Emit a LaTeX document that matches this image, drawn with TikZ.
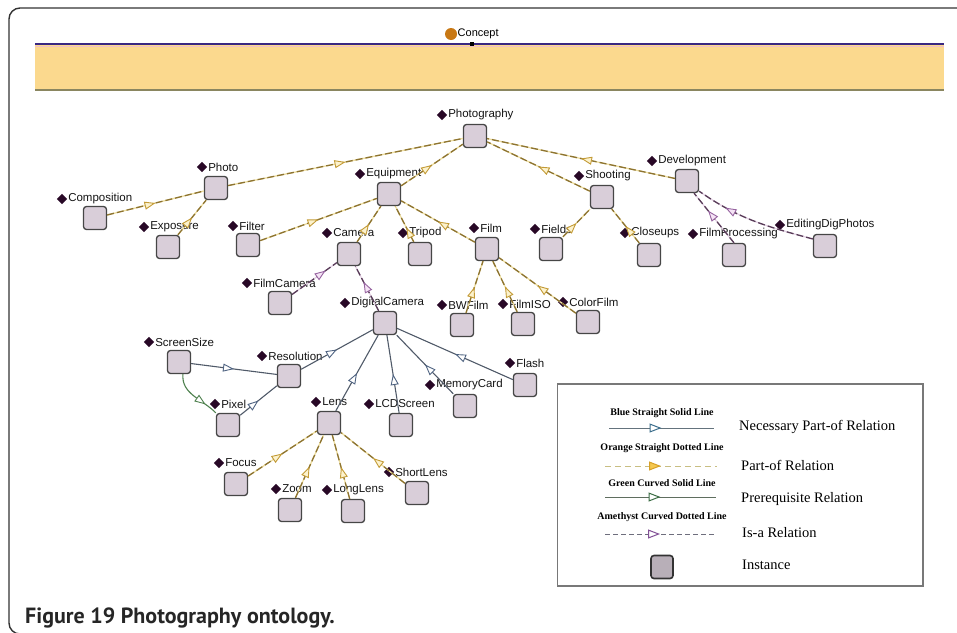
\documentclass[tikz,border=0pt]{standalone}
\usepackage{fontspec}
\setmainfont{Liberation Sans}
\newfontfamily\legfont{Liberation Serif}
\newfontfamily\capfont{PT Sans}
\usetikzlibrary{arrows.meta,decorations.markings,shapes.geometric}

\definecolor{instfill}{RGB}{217,206,217}
\definecolor{instdraw}{RGB}{70,70,70}
\definecolor{diamc}{RGB}{40,8,38}
\definecolor{pofdash}{RGB}{140,115,50}
\definecolor{pofunder}{RGB}{238,222,160}
\definecolor{pofarrow}{RGB}{195,155,55}
\definecolor{pofarrowfill}{RGB}{252,242,205}
\definecolor{isadash}{RGB}{88,60,88}
\definecolor{isaunder}{RGB}{228,210,228}
\definecolor{isaarrow}{RGB}{150,100,160}
\definecolor{isaarrowfill}{RGB}{245,228,245}
\definecolor{npline}{RGB}{80,90,105}
\definecolor{nparrow}{RGB}{80,100,130}
\definecolor{preline}{RGB}{80,130,80}
\definecolor{bandfill}{RGB}{251,217,142}
\definecolor{bandtop}{RGB}{58,40,130}
\definecolor{bandpink}{RGB}{240,190,200}
\definecolor{bandbot}{RGB}{138,134,96}
\definecolor{conceptc}{RGB}{200,120,20}
\definecolor{framec}{RGB}{50,50,50}
\definecolor{legbox}{RGB}{120,120,120}
\definecolor{legpof}{RGB}{200,190,130}
\definecolor{legpofarrow}{RGB}{215,160,40}
\definecolor{legpoffill}{RGB}{245,200,80}
\definecolor{legnp}{RGB}{100,115,125}
\definecolor{legnparrow}{RGB}{60,110,140}
\definecolor{legpre}{RGB}{95,110,95}
\definecolor{legprearrow}{RGB}{60,110,70}
\definecolor{legisa}{RGB}{110,110,125}
\definecolor{legisaarrow}{RGB}{130,80,150}

\tikzset{
  inst/.style={draw=instdraw, fill=instfill, line width=1.3pt, rounded corners=3pt,
    minimum width=23pt, minimum height=23pt, inner sep=0pt},
  lbldiam/.style={diamond, fill=diamc, inner sep=0pt, minimum width=10.5pt, minimum height=10.5pt},
  lbltext/.style={anchor=west, inner sep=0.6pt, font=\fontsize{11.5}{13}\selectfont, text=black!92},
  midtip/.style 2 args={postaction={decorate, decoration={markings,
    mark=at position #1 with {\arrow{#2}}}}},
  partof/.style={draw=pofdash, line width=1.3pt, dash pattern=on 7pt off 3pt,
    preaction={draw=pofunder, solid, line width=1.3pt},
    midtip={#1}{Triangle[length=11pt,width=8pt,color=pofarrow,fill=pofarrowfill,line width=0.9pt]}},
  partof/.default=0.5,
  isa/.style={draw=isadash, line width=1.3pt, dash pattern=on 7pt off 3pt,
    preaction={draw=isaunder, solid, line width=1.3pt},
    midtip={#1}{Triangle[length=11pt,width=8pt,color=isaarrow,fill=isaarrowfill,line width=0.9pt]}},
  isa/.default=0.7,
  necpart/.style={draw=npline, line width=1.1pt,
    midtip={#1}{Triangle[length=11pt,width=8pt,color=nparrow,fill=white,line width=0.9pt]}},
  necpart/.default=0.5,
  prereq/.style={draw=preline, line width=1.1pt,
    midtip={#1}{Triangle[length=11pt,width=8pt,color=preline,fill=white,line width=0.9pt]}},
  prereq/.default=0.75,
  legsmall/.style={font=\legfont\bfseries\fontsize{10}{12}\selectfont, inner sep=0pt},
  legbig/.style={font=\legfont\fontsize{14.5}{17}\selectfont, anchor=west, inner sep=0pt},
  legtip/.style 2 args={midtip={0.5}{Triangle[length=12pt,width=9pt,color=#1,fill=#2,line width=1pt]}},
}

% instance label: name, diamond x, diamond y, text
\newcommand{\instlabel}[4]{%
  \node[lbldiam] (#1-d) at (#2,#3) {};
  \node[lbltext] (#1-t) at (#1-d.east) {#4};}
% instance square: name, x, y
\newcommand{\instbox}[3]{\node[inst] (#1) at (#2,#3) {};}

\begin{document}
\begin{tikzpicture}[x=1pt,y=-1pt]
\useasboundingbox (0,0) rectangle (957,632);

% page frame
\draw[framec, line width=1.4pt, rounded corners=11pt] (960,8) -- (9,8) -- (9,634) -- (960,634);

% concept band
\fill[bandfill] (35,45) rectangle (944,90);
\draw[bandpink, line width=1pt] (35,46.8) -- (944,46.8);
\draw[bandtop, line width=2pt] (35,44) -- (944,44);
\draw[bandbot, line width=1.6pt] (35,90) -- (944,90);
\node[circle, fill=conceptc, minimum size=12pt, inner sep=0pt] (concept) at (451,34) {};
\node[anchor=west, inner sep=0pt, font=\fontsize{11}{13}\selectfont] (concept-t) at (457.5,33.5) {Concept};
\node[fill=black, minimum size=4pt, inner sep=0pt] (concept-pin) at (472,44) {};

% labels
\instlabel{pg}{442}{115}{Photography}
\instlabel{photo}{202}{167}{Photo}
\instlabel{comp}{62}{199}{Composition}
\instlabel{expo}{144}{227}{Exposure}
\instlabel{equip}{360}{174}{Equipment}
\instlabel{filter}{233}{226}{Filter}
\instlabel{camera}{327}{233}{Camera}
\instlabel{tripod}{403}{233}{Tripod}
\instlabel{film}{474}{228}{Film}
\instlabel{fc}{247}{283}{FilmCamera}
\instlabel{dc}{345}{303}{DigitalCamera}
\instlabel{bw}{442}{305}{BWFilm}
\instlabel{iso}{503}{304}{FilmISO}
\instlabel{color}{563}{302}{ColorFilm}
\instlabel{shoot}{579}{176}{Shooting}
\instlabel{fields}{535}{229}{Fields}
\instlabel{close}{625}{233}{Closeups}
\instlabel{dev}{652}{161}{Development}
\instlabel{fp}{693}{234}{FilmProcessing}
\instlabel{edp}{780}{225}{EditingDigPhotos}
\instlabel{ss}{149}{342}{ScreenSize}
\instlabel{res}{262}{356}{Resolution}
\instlabel{pix}{215}{404}{Pixel}
\instlabel{lens}{316}{402}{Lens}
\instlabel{lcd}{369}{404}{LCDScreen}
\instlabel{mem}{430}{385}{MemoryCard}
\instlabel{flash}{510}{363}{Flash}
\instlabel{focus}{219}{463}{Focus}
\instlabel{zoom}{276}{489}{Zoom}
\instlabel{long}{327}{490}{LongLens}
\instlabel{short}{389}{472}{ShortLens}

% instance squares
\instbox{pg}{475}{136}
\instbox{photo}{216}{188}
\instbox{comp}{95}{218}
\instbox{expo}{168}{247}
\instbox{equip}{389}{194}
\instbox{filter}{248}{245}
\instbox{camera}{349}{254}
\instbox{tripod}{420}{254}
\instbox{film}{487}{249}
\instbox{fc}{280}{303}
\instbox{dc}{385}{323}
\instbox{bw}{462}{325}
\instbox{iso}{523}{324}
\instbox{color}{588}{322}
\instbox{shoot}{602}{197}
\instbox{fields}{551}{249}
\instbox{close}{649}{255}
\instbox{dev}{687}{181}
\instbox{fp}{734}{255}
\instbox{edp}{825}{246}
\instbox{ss}{179}{362}
\instbox{res}{289}{376}
\instbox{pix}{228}{425}
\instbox{lens}{329}{423}
\instbox{lcd}{401}{425}
\instbox{mem}{465}{406}
\instbox{flash}{525}{385}
\instbox{focus}{236}{484}
\instbox{zoom}{290}{510}
\instbox{long}{353}{511}
\instbox{short}{417}{493}

% part-of relations
\draw[partof] (photo) -- (pg);
\draw[partof] (comp) -- (photo);
\draw[partof] (expo) -- (photo);
\draw[partof] (equip) -- (pg);
\draw[partof] (filter) -- (equip);
\draw[partof] (camera) -- (equip);
\draw[partof=0.4] (tripod) -- (equip);
\draw[partof] (film) -- (equip);
\draw[partof] (shoot) -- (pg);
\draw[partof] (dev) -- (pg);
\draw[partof] (fields) -- (shoot);
\draw[partof] (close) -- (shoot);
\draw[partof] (bw) -- (film);
\draw[partof] (iso) -- (film);
\draw[partof] (color) -- (film);
\draw[partof] (focus) -- (lens);
\draw[partof] (zoom) -- (lens);
\draw[partof] (long) -- (lens);
\draw[partof] (short) -- (lens);

% is-a relations
\draw[isa=0.75] (fc) -- (camera);
\draw[isa=0.65] (dc) -- (camera);
\draw[isa=0.65] (fp.north) -- (dev.-60);
\draw[isa=0.75] (edp.150) to[out=165, in=-35] (dev.-40);

% necessary part-of relations
\draw[necpart] (res) -- (dc);
\draw[necpart] (lens) -- (dc);
\draw[necpart] (lcd) -- (dc);
\draw[necpart] (mem) -- (dc);
\draw[necpart] (flash) -- (dc);
\draw[necpart] (ss) -- (res);
\draw[necpart] (pix) -- (res);

% prerequisite relation
\draw[prereq] (ss.-72) to[out=-95, in=135] (pix.north west);

% legend
\draw[legbox, line width=1.5pt] (557.5,384) rectangle (923,586);
\node[legsmall] (lg1) at (662,413) {Blue Straight Solid Line};
\coordinate (lg1a) at (609,428); \coordinate (lg1b) at (714,428);
\draw[draw=legnp, line width=0.9pt, legtip={legnparrow}{white}] (lg1a) -- (lg1b);
\node[legbig] (lt1) at (739,427) {Necessary Part-of Relation};

\node[legsmall] (lg2) at (662,448) {Orange Straight Dotted Line};
\coordinate (lg2a) at (605,466); \coordinate (lg2b) at (717,466);
\draw[draw=legpof, line width=0.9pt, dash pattern=on 6pt off 4pt, legtip={legpofarrow}{legpoffill}] (lg2a) -- (lg2b);
\node[legbig] (lt2) at (741,465) {Part-of Relation};

\node[legsmall] (lg3) at (662,483) {Green Curved Solid Line};
\coordinate (lg3a) at (605,497); \coordinate (lg3b) at (716,497);
\draw[draw=legpre, line width=0.9pt, legtip={legprearrow}{white}] (lg3a) -- (lg3b);
\node[legbig] (lt3) at (741,499) {Prerequisite Relation};

\node[legsmall] (lg4) at (662,517) {Amethyst Curved Dotted Line};
\coordinate (lg4a) at (605,534); \coordinate (lg4b) at (715,534);
\draw[draw=legisa, line width=0.9pt, dash pattern=on 5pt off 3pt, legtip={legisaarrow}{white}] (lg4a) -- (lg4b);
\node[legbig] (lt4) at (742,533) {Is-a Relation};

\node[draw=black!80, fill=instfill!85!black, line width=1.6pt, rounded corners=3pt, minimum width=22pt, minimum height=23pt, inner sep=0pt] (lgbox) at (662,567) {};
\node[legbig] (lt5) at (742,565) {Instance};

% caption
\node[anchor=base west, inner sep=0pt, font=\capfont\bfseries\fontsize{22}{26}\selectfont, text=black!85] (cap) at (25,623) {Figure 19 Photography ontology.};
\end{tikzpicture}
\end{document}
